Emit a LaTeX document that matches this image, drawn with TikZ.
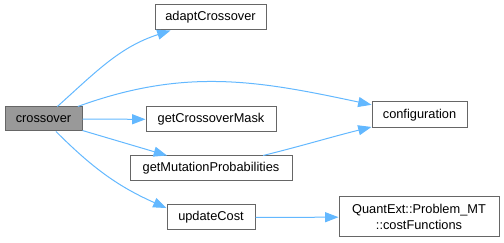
\documentclass[tikz,border=0pt]{standalone}
\usepackage{fontspec}
\setmainfont{Liberation Sans}
\usetikzlibrary{arrows.meta}

\definecolor{edgeblue}{HTML}{63B8FF}
\definecolor{boxgray}{HTML}{666666}
\definecolor{callergray}{HTML}{999999}

\begin{document}
\begin{tikzpicture}[x=0.75pt, y=0.75pt,
	every node/.style={rectangle, draw=boxgray, fill=white, line width=0.75pt, inner sep=0pt, font=\fontsize{9.6}{11.5}\selectfont, align=center},
	every path/.style={draw=edgeblue, line width=0.75pt, -{Triangle[length=10pt, width=7.5pt]}}]
			\useasboundingbox[draw=none, -] (0,0) rectangle (504,243);

			\node[fill=callergray, minimum width=57.75pt, minimum height=18pt] (crossover) at (43.5,124){crossover};
			\node[minimum width=83.25pt, minimum height=18.75pt] (adapt) at (210.5,225.5){adaptCrossover};
			\node[minimum width=97.5pt, minimum height=18.75pt] (mask) at (211,123.5){getCrossoverMask};
			\node[minimum width=121.5pt, minimum height=18.75pt] (mutprob) at (211,74.5){getMutationProbabilities};
			\node[minimum width=66pt, minimum height=18.75pt] (update) at (211,25.5){updateCost};
			\node[minimum width=71.25pt, minimum height=19.5pt] (config) at (419.5,128){configuration};
			\node[minimum width=120pt, minimum height=30pt] (costfn) at (419,26){QuantExt::Problem\_MT\\::costFunctions};

			\path (crossover) to[out=42, in=198] (adapt);
			\path (crossover) to[out=20, in=168] (config);
			\path (crossover) -- (mask);
			\path (crossover) -- (mutprob);
			\path (crossover) to[out=-45, in=156] (update.168);
			\path (mutprob) to[out=14, in=194] (config);
			\path (update) -- (costfn);
			\end{tikzpicture}
\end{document}
